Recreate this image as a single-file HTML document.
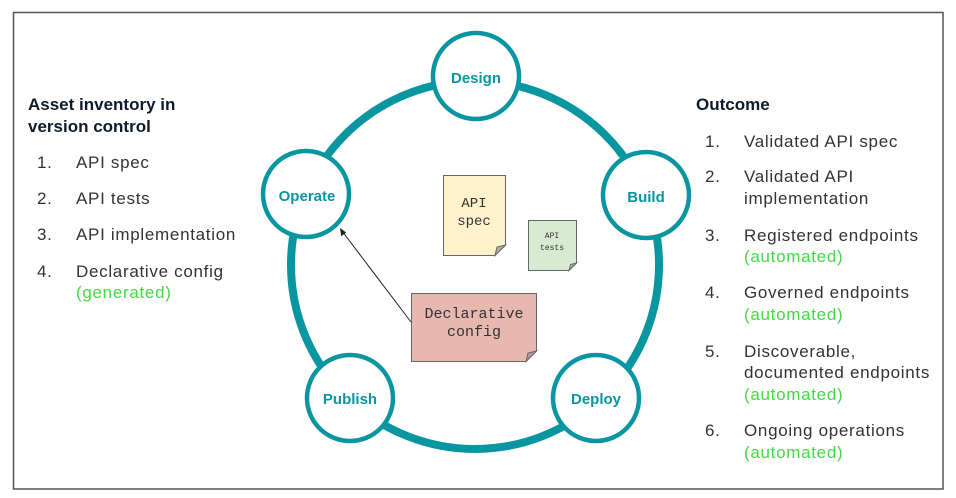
<!DOCTYPE html>
<html><head><meta charset="utf-8"><style>
html,body{margin:0;padding:0;background:#fff;}
svg{display:block;}
.h{font-family:"Liberation Sans",sans-serif;font-weight:bold;font-size:17px;fill:#0d1b2a;}
.t{font-family:"Liberation Sans",sans-serif;font-size:17px;fill:#333;letter-spacing:0.7px;}
.g{font-family:"Liberation Sans",sans-serif;font-size:17px;fill:#44d944;letter-spacing:0.7px;}
.c{font-family:"Liberation Sans",sans-serif;font-weight:bold;font-size:15px;fill:#0996a0;}
.m{font-family:"Liberation Mono",monospace;fill:#333;}
</style></head><body>
<svg width="956" height="498" viewBox="0 0 956 498" xmlns="http://www.w3.org/2000/svg">
<rect x="13.5" y="12.5" width="929.5" height="476.5" fill="#fff" stroke="#555" stroke-width="1.5"/>

<!-- ring -->
<circle cx="475" cy="265" r="184" fill="none" stroke="#0996a0" stroke-width="8"/>

<!-- stage circles -->
<g fill="#fff" stroke="#0996a0" stroke-width="4.5">
<circle cx="476" cy="76" r="43"/>
<circle cx="306" cy="194" r="43"/>
<circle cx="646" cy="195" r="43"/>
<circle cx="350" cy="398" r="43"/>
<circle cx="596" cy="398" r="43"/>
</g>
<g class="c" text-anchor="middle">
<text x="476" y="83">Design</text>
<text x="307" y="201">Operate</text>
<text x="646" y="202">Build</text>
<text x="350" y="404">Publish</text>
<text x="596" y="404">Deploy</text>
</g>

<!-- notes -->
<path d="M443.5,175.5 H505.5 V245 L495,255.5 H443.5 Z" fill="#fdf2cc" stroke="#666" stroke-width="1"/>
<path d="M505.5,245 L495,255.5 L497,247 Z" fill="#b8ad9a" stroke="#666" stroke-width="1"/>
<text class="m" x="474" y="207" font-size="14" text-anchor="middle">API</text>
<text class="m" x="474" y="225" font-size="14" text-anchor="middle">spec</text>

<path d="M528.5,220.5 H576.5 V263 L569,270.5 H528.5 Z" fill="#d9ead3" stroke="#666" stroke-width="1"/>
<path d="M576.5,263 L569,270.5 L570.5,264.5 Z" fill="#a9b5a3" stroke="#666" stroke-width="1"/>
<text class="m" x="552" y="238" font-size="8" text-anchor="middle">API</text>
<text class="m" x="552" y="250" font-size="8" text-anchor="middle">tests</text>

<path d="M411.5,293.5 H536.5 V351 L526,361.5 H411.5 Z" fill="#e6b8af" stroke="#666" stroke-width="1"/>
<path d="M536.5,351 L526,361.5 L528,353 Z" fill="#b59a93" stroke="#666" stroke-width="1"/>
<text class="m" x="474" y="318" font-size="15" text-anchor="middle">Declarative</text>
<text class="m" x="474" y="336" font-size="15" text-anchor="middle">config</text>

<!-- arrow -->
<line x1="411" y1="322" x2="342" y2="231" stroke="#222" stroke-width="1"/>
<path d="M340,228 L341.2,236.2 L346.2,232.5 Z" fill="#222"/>

<!-- left column -->
<text class="h" x="28" y="110">Asset inventory in</text>
<text class="h" x="28" y="132">version control</text>
<text class="t" x="37" y="168">1.</text><text class="t" x="76" y="168">API spec</text>
<text class="t" x="37" y="204">2.</text><text class="t" x="76" y="204">API tests</text>
<text class="t" x="37" y="240">3.</text><text class="t" x="76" y="240">API implementation</text>
<text class="t" x="37" y="277">4.</text><text class="t" x="76" y="277">Declarative config</text>
<text class="g" x="76" y="298">(generated)</text>

<!-- right column -->
<text class="h" x="696" y="110">Outcome</text>
<text class="t" x="705" y="147">1.</text><text class="t" x="744" y="147">Validated API spec</text>
<text class="t" x="705" y="182">2.</text><text class="t" x="744" y="182">Validated API</text>
<text class="t" x="744" y="204">implementation</text>
<text class="t" x="705" y="241">3.</text><text class="t" x="744" y="241">Registered endpoints</text>
<text class="g" x="744" y="262">(automated)</text>
<text class="t" x="705" y="298">4.</text><text class="t" x="744" y="298">Governed endpoints</text>
<text class="g" x="744" y="320">(automated)</text>
<text class="t" x="705" y="357">5.</text><text class="t" x="744" y="357">Discoverable,</text>
<text class="t" x="744" y="378">documented endpoints</text>
<text class="g" x="744" y="400">(automated)</text>
<text class="t" x="705" y="436">6.</text><text class="t" x="744" y="436">Ongoing operations</text>
<text class="g" x="744" y="458">(automated)</text>
</svg>
</body></html>
